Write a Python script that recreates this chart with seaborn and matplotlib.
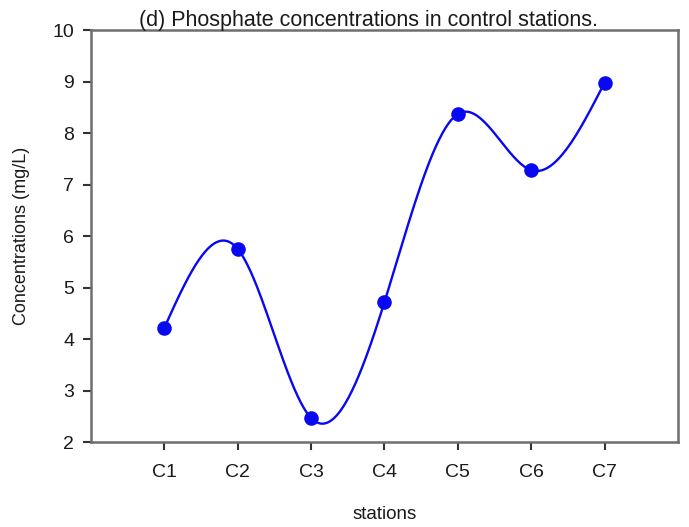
import numpy as np
import pandas as pd
import matplotlib
matplotlib.use("Agg")
import matplotlib.pyplot as plt
import seaborn as sns

stations = ["C1", "C2", "C3", "C4", "C5", "C6", "C7"]
phosphate = [4.22, 5.75, 2.47, 4.72, 8.37, 7.28, 8.98]
y_ticks = [2, 3, 4, 5, 6, 7, 8, 9, 10]


def natural_cubic_spline(x, y, n=400):
    """Smooth curve through the points (natural end conditions)."""
    x = np.asarray(x, float)
    y = np.asarray(y, float)
    m = len(x)
    h = np.diff(x)
    A = np.zeros((m, m))
    b = np.zeros(m)
    A[0, 0] = A[-1, -1] = 1.0
    for i in range(1, m - 1):
        A[i, i - 1] = h[i - 1]
        A[i, i] = 2 * (h[i - 1] + h[i])
        A[i, i + 1] = h[i]
        b[i] = 3 * ((y[i + 1] - y[i]) / h[i] - (y[i] - y[i - 1]) / h[i - 1])
    c = np.linalg.solve(A, b)
    xs = np.linspace(x[0], x[-1], n)
    ys = np.empty_like(xs)
    for k, xv in enumerate(xs):
        i = min(np.searchsorted(x, xv, side="right") - 1, m - 2)
        dx = xv - x[i]
        bi = (y[i + 1] - y[i]) / h[i] - h[i] * (2 * c[i] + c[i + 1]) / 3
        di = (c[i + 1] - c[i]) / (3 * h[i])
        ys[k] = y[i] + bi * dx + c[i] * dx ** 2 + di * dx ** 3
    return xs, ys


sns.set_theme(style="white")
plt.rcParams["font.family"] = ["Liberation Sans", "DejaVu Sans"]

pos = np.arange(1, len(stations) + 1)
points = pd.DataFrame({"pos": pos, "value": phosphate})
xs, ys = natural_cubic_spline(pos, phosphate)
curve = pd.DataFrame({"pos": xs, "value": ys})

fig = plt.figure(figsize=(6.89, 5.27), dpi=100)
ax = fig.add_axes([0.132, 0.161, 0.852, 0.782])

blue = "#0808f2"
sns.lineplot(data=curve, x="pos", y="value", ax=ax, color=blue, linewidth=1.7,
             sort=False, estimator=None)
sns.scatterplot(data=points, x="pos", y="value", ax=ax, color=blue, s=110,
                edgecolor=blue, linewidth=0, zorder=3)

ax.set_xlim(0, len(stations) + 1)
ax.set_ylim(2, 10)
ax.set_xticks(pos)
ax.set_xticklabels(stations)
ax.set_yticks(y_ticks)
ax.set_yticklabels([str(t) for t in y_ticks])

spine_color = "#6e6e6e"
for s in ax.spines.values():
    s.set_color(spine_color)
    s.set_linewidth(1.8)
    s.set_visible(True)

ax.tick_params(axis="both", which="major", bottom=True, left=True,
               direction="out", length=6, width=1.5,
               color="#333333", labelsize=14, labelcolor="#1a1a1a")
ax.tick_params(axis="y", pad=6)
ax.tick_params(axis="x", pad=10)

ax.set_xlabel("stations", fontsize=13.5, color="#1a1a1a", labelpad=18)
ax.set_ylabel("Concentrations (mg/L)", fontsize=13, color="#1a1a1a", labelpad=16)
ax.set_title("(d) Phosphate concentrations in control stations.",
             fontsize=15.5, color="#1a1a1a", pad=3, x=0.472)

fig.savefig("out.png", dpi=100)
